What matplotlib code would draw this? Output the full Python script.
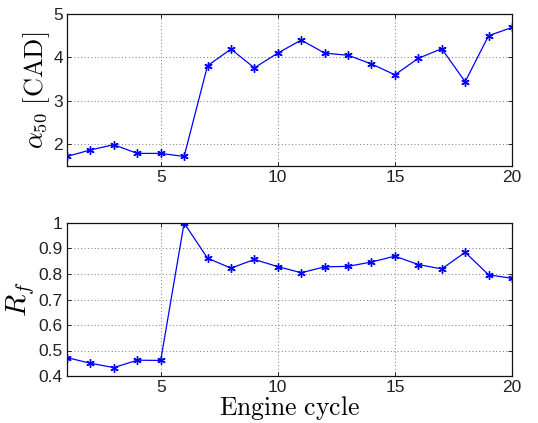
import matplotlib
matplotlib.use("Agg")
import matplotlib.pyplot as plt

cycles = list(range(1, 21))
alpha50 = [1.72, 1.87, 1.99, 1.79, 1.79, 1.72, 3.81, 4.19, 3.76, 4.10,
           4.40, 4.10, 4.05, 3.85, 3.60, 3.98, 4.20, 3.44, 4.50, 4.69]
rf = [0.472, 0.450, 0.433, 0.462, 0.461, 1.000, 0.862, 0.823, 0.857, 0.829,
      0.805, 0.828, 0.830, 0.847, 0.870, 0.837, 0.820, 0.885, 0.797, 0.783]
xticks = [5, 10, 15, 20]

plt.rcParams['mathtext.fontset'] = 'cm'
plt.rcParams['font.family'] = ['Liberation Sans', 'DejaVu Sans']

fig = plt.figure(figsize=(5.38, 4.23), dpi=100)
W, H = 538, 423
ax1 = fig.add_axes([67/W, 1 - 166/H, (512-67)/W, (166-14)/H])
ax2 = fig.add_axes([67/W, 1 - 376/H, (512-67)/W, (376-223)/H])

for ax in (ax1, ax2):
    ax.set_xlim(1, 20)
    ax.set_xticks(xticks)
    ax.grid(True, linestyle=(0, (1, 2.5)), color='#777777', linewidth=0.7)
    ax.tick_params(direction='in', labelsize=12.5, length=3, width=0.7,
                   top=True, right=True, pad=3, colors='#222222')
    ax.tick_params(axis='x', pad=3)
    for s in ax.spines.values():
        s.set_linewidth(0.9)
        s.set_color('#111111')

ast = (6, 2, 0)
ax1.plot(cycles, alpha50, color='blue', marker=ast, markersize=6,
         markeredgewidth=1.0, linewidth=0.9)
ax1.set_ylim(1.5, 5)
ax1.set_yticks([2, 3, 4, 5])
ax1.set_ylabel(r'$\alpha_{50}\ [\mathrm{CAD}]$', fontsize=19)
ax1.yaxis.set_label_coords(-0.034, 0.5)

ax2.plot(cycles, rf, color='blue', marker=ast, markersize=6,
         markeredgewidth=1.0, linewidth=0.9)
ax2.set_ylim(0.4, 1.0)
ax2.set_yticks([0.4, 0.5, 0.6, 0.7, 0.8, 0.9, 1.0])
ax2.set_yticklabels(['0.4', '0.5', '0.6', '0.7', '0.8', '0.9', '1'])
ax2.set_ylabel(r'$R_f$', fontsize=21)
ax2.yaxis.set_label_coords(-0.067, 0.5)
ax2.set_xlabel(r'$\mathrm{Engine\ cycle}$', fontsize=18.5, va='bottom')
ax2.xaxis.set_label_coords(0.5, -(422 - 376) / 153)

fig.savefig('out.png', dpi=100)
